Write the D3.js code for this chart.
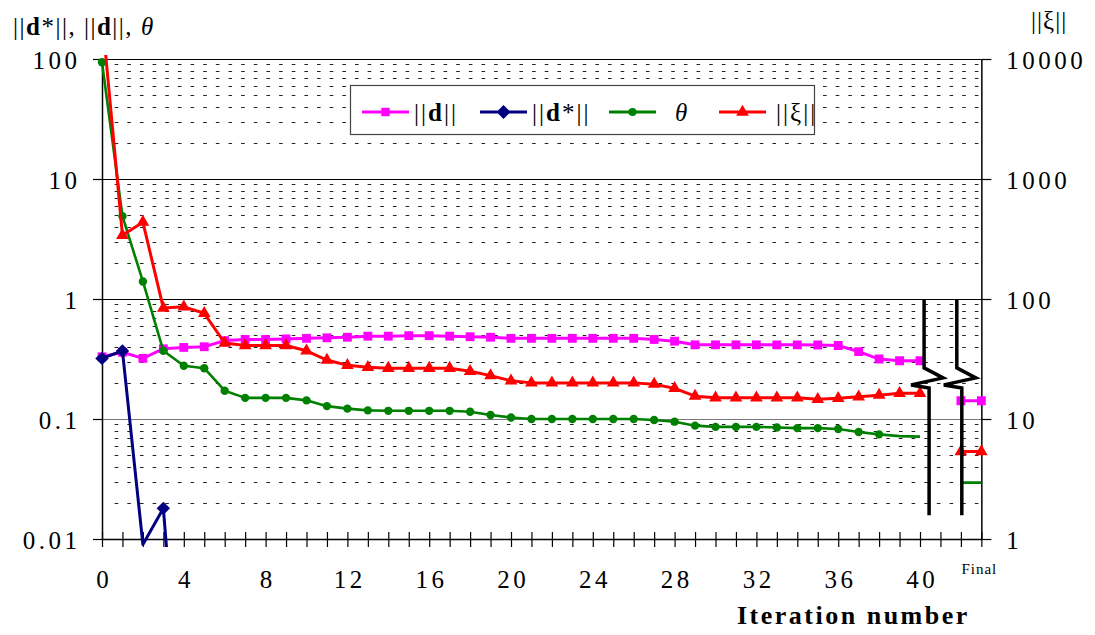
<!DOCTYPE html>
<html>
<head>
<meta charset="utf-8">
<script src="https://cdn.jsdelivr.net/npm/d3@7"></script>
<style>
  body { margin: 0; background: #fff; }
  svg { display: block; font-family: "Liberation Serif", "Times New Roman", serif; }
</style>
</head>
<body>
<div id="container"></div>
<script>

// iteration numbers and the "Final" slot
let iterations = d3.range(0, 41);
let final_x = [42, 43];

// ||d|| (left axis)
let d_norm = [0.33, 0.36, 0.32, 0.385, 0.395, 0.40, 0.45, 0.46, 0.46, 0.465,
  0.47, 0.475, 0.48, 0.49, 0.49, 0.495, 0.495, 0.49, 0.485, 0.48,
  0.47, 0.47, 0.47, 0.47, 0.47, 0.47, 0.47, 0.46, 0.445, 0.415,
  0.415, 0.415, 0.415, 0.415, 0.415, 0.414, 0.41, 0.364, 0.316, 0.306, 0.306];
let d_norm_final = 0.142;

// ||d*|| (left axis), only first iterations
let d_star = [0.32, 0.369, 0.009, 0.018, 0.00014];

// theta (left axis)
let theta = [94, 4.9, 1.4, 0.37, 0.278, 0.265, 0.172, 0.15, 0.15, 0.15,
  0.143, 0.128, 0.122, 0.118, 0.117, 0.117, 0.117, 0.117, 0.115, 0.108,
  0.103, 0.1, 0.1, 0.1, 0.1, 0.1, 0.1, 0.098, 0.095, 0.088,
  0.086, 0.086, 0.086, 0.085, 0.084, 0.084, 0.0826, 0.078, 0.0745, 0.072, 0.0713];
let theta_final = 0.0295;
let theta_no_marker = [39, 40];

// ||xi|| (right axis)
let xi = [23300, 340, 437, 84, 86, 76, 43, 41, 41, 41,
  37, 31, 28, 27, 26.5, 26.5, 26.5, 26.5, 25, 23,
  20.8, 20, 20, 20, 20, 20, 20, 19.5, 18, 15.5,
  15, 15, 15, 15, 15, 14.6, 14.9, 15.3, 15.8, 16.4, 16.4];
let xi_final = 5.35;

let left_ticks = [0.01, 0.1, 1, 10, 100];
let left_tick_labels = ["0.01", "0.1", "1", "10", "100"];
let right_ticks = [1, 10, 100, 1000, 10000];
let x_label_ticks = [0, 4, 8, 12, 16, 20, 24, 28, 32, 36, 40];

// axis break positions (iteration units) and span (left axis units)
let break_x = [40.2, 41.8];
let break_top = 1;
let break_bottom = 0.0158;
let break_zig = 0.22;

let width = 1095, height = 635;
let margin = ({ top: 59, right: 113.65, bottom: 96, left: 102 });
let plot_w = width - margin.left - margin.right;
let plot_h = height - margin.top - margin.bottom;
let serif = "'Liberation Serif', 'Times New Roman', serif";

let x = d3.scaleLinear().domain([0, 43]).range([margin.left, margin.left + plot_w]);
let y = d3.scaleLog().domain([0.01, 100]).range([margin.top + plot_h, margin.top]);
let y2 = d3.scaleLog().domain([1, 10000]).range([margin.top + plot_h, margin.top]);

let svg = d3.select("#container").append("svg")
  .attr("width", width).attr("height", height);

svg.append("defs").append("clipPath").attr("id", "clip")
  .append("rect")
  .attr("x", margin.left - 12).attr("y", margin.top - 4)
  .attr("width", plot_w + 24).attr("height", plot_h + 12);

// minor grid (dashed)
let minor = [];
[0.01, 0.1, 1, 10].forEach(function (p) {
  for (let k = 2; k <= 9; k++) minor.push(+(p * k).toPrecision(3));
});

svg.append("g").selectAll("line")
  .data(minor)
  .enter().append("line")
  .attr("x1", x(0) + 12.65).attr("x2", x(43))
  .attr("y1", d => Math.round(y(d)) + 0.5)
  .attr("y2", d => Math.round(y(d)) + 0.5)
  .attr("stroke", "#222")
  .attr("stroke-width", 1)
  .attr("stroke-dasharray", "3.6 9.05");

// major grid
svg.append("g").selectAll("line")
  .data([0.1, 1, 10, 100])
  .enter().append("line")
  .attr("x1", x(0)).attr("x2", x(43))
  .attr("y1", d => Math.round(y(d)) + 0.5)
  .attr("y2", d => Math.round(y(d)) + 0.5)
  .attr("stroke", d => d === 0.1 ? "#777" : "#000")
  .attr("stroke-width", 1.2);

// axes
let ls = 3.5;
let left_axis = svg.append("g")
  .attr("transform", "translate(" + x(0) + ",0)")
  .call(d3.axisLeft(y).tickValues(left_ticks).tickSize(9).tickSizeOuter(0).tickPadding(16)
    .tickFormat((d, i) => left_tick_labels[i]));

let right_axis = svg.append("g")
  .attr("transform", "translate(" + x(43) + ",0)")
  .call(d3.axisRight(y2).tickValues(right_ticks).tickSize(10).tickSizeOuter(0).tickPadding(15)
    .tickFormat(d => String(d)));

let bottom_axis = svg.append("g")
  .attr("transform", "translate(0," + y(0.01) + ")")
  .call(d3.axisBottom(x).tickValues(d3.range(0, 44)).tickSize(8).tickSizeOuter(0)
    .tickFormat(d => x_label_ticks.indexOf(d) >= 0 ? String(d) : ""));

bottom_axis.selectAll(".tick line").attr("y1", -7);
bottom_axis.selectAll(".tick text").attr("y", 49).attr("dy", 0).attr("dx", ls / 2);

[left_axis, right_axis, bottom_axis].forEach(function (a) {
  a.attr("font-family", null);
  a.select(".domain").attr("stroke", "#000").attr("stroke-width", 1.5);
  a.selectAll(".tick line").attr("stroke", "#000").attr("stroke-width", 1.2);
  a.selectAll(".tick text")
    .style("font-family", serif)
    .attr("font-size", 25)
    .attr("fill", "#000")
    .style("letter-spacing", ls + "px");
});
left_axis.selectAll(".tick text").attr("dx", ls).attr("dy", "0.36em");
right_axis.selectAll(".tick text").attr("dy", "0.36em");

svg.append("text")
  .attr("x", x(43) - 2).attr("y", y(0.01) + 35)
  .attr("text-anchor", "middle")
  .attr("font-size", 15)
  .style("letter-spacing", "1px")
  .text("Final");

// series
let plot = svg.append("g").attr("clip-path", "url(#clip)");

function draw_series(values, scale, color, lw, shape, msize, rot, skip) {
  let pts = values.map((v, i) => ({ x: iterations[i], v: v }));
  let line = d3.line().x(d => x(d.x)).y(d => scale(d.v));
  plot.append("path").datum(pts)
    .attr("d", line)
    .attr("fill", "none").attr("stroke", color)
    .attr("stroke-width", lw).attr("stroke-linejoin", "round");
  let dom = scale.domain();
  plot.selectAll(null)
    .data(pts.filter(d => d.v >= dom[0] && d.v <= dom[1] && skip.indexOf(d.x) < 0))
    .enter().append("path")
    .attr("d", d3.symbol().type(shape).size(msize))
    .attr("transform", d => "translate(" + x(d.x) + "," + scale(d.v) + ") rotate(" + rot + ")")
    .attr("fill", color);
}

function draw_final(v, scale, color, lw, shape, msize) {
  let pts = final_x.map(fx => ({ x: fx, v: v }));
  plot.append("path").datum(pts)
    .attr("d", d3.line().x(d => x(d.x)).y(d => scale(d.v)))
    .attr("fill", "none").attr("stroke", color).attr("stroke-width", lw);
  if (shape) {
    plot.selectAll(null).data(pts).enter().append("path")
      .attr("d", d3.symbol().type(shape).size(msize))
      .attr("transform", d => "translate(" + x(d.x) + "," + scale(d.v) + ")")
      .attr("fill", color);
  }
}

draw_series(d_norm, y, "#ff00ff", 3, d3.symbolSquare, 78, 0, []);
draw_final(d_norm_final, y, "#ff00ff", 3, d3.symbolSquare, 78);
draw_series(d_star, y, "#000080", 3, d3.symbolSquare, 90, 45, []);
draw_series(theta, y, "#008000", 2.6, d3.symbolCircle, 55, 0, theta_no_marker);
draw_final(theta_final, y, "#008000", 2.6, null, 0);
draw_series(xi, y2, "#ff0000", 3, d3.symbolTriangle, 70, 0, []);
draw_final(xi_final, y2, "#ff0000", 3, d3.symbolTriangle, 70);

// axis break marks
svg.append("g").selectAll("path")
  .data(break_x)
  .enter().append("path")
  .attr("d", function (bx) {
    let px = x(bx), yz = y(break_zig);
    return "M" + px + "," + y(break_top) +
      "L" + px + "," + (yz - 10) +
      "L" + (px + 19) + "," + yz +
      "L" + (px - 13) + "," + (yz + 7) +
      "L" + (px + 5) + "," + (yz + 10) +
      "L" + (px + 5) + "," + y(break_bottom);
  })
  .attr("fill", "none").attr("stroke", "#000").attr("stroke-width", 3.5);

// legend
let legend_items = [
  { label: "d", kind: "d", color: "#ff00ff", shape: d3.symbolSquare, size: 70, rot: 0 },
  { label: "d*", kind: "dstar", color: "#000080", shape: d3.symbolSquare, size: 95, rot: 45 },
  { label: "\u03b8", kind: "theta", color: "#008000", shape: d3.symbolCircle, size: 50, rot: 0 },
  { label: "\u03be", kind: "xi", color: "#ff0000", shape: d3.symbolTriangle, size: 70, rot: 0 }
];
let legend_x = [362, 480, 609, 719];

let legend = svg.append("g");
legend.append("rect")
  .attr("x", 350.5).attr("y", 85.5).attr("width", 464).attr("height", 49)
  .attr("fill", "#fff").attr("stroke", "#444").attr("stroke-width", 1.2);

legend_items.forEach(function (it, i) {
  let lx = legend_x[i], ly = 112;
  legend.append("line")
    .attr("x1", lx).attr("x2", lx + 47).attr("y1", ly).attr("y2", ly)
    .attr("stroke", it.color).attr("stroke-width", 3);
  legend.append("path")
    .attr("d", d3.symbol().type(it.shape).size(it.size))
    .attr("transform", "translate(" + (lx + 23.5) + "," + ly + ") rotate(" + it.rot + ")")
    .attr("fill", it.color);
  let t = legend.append("text")
    .attr("y", ly + 9).attr("font-size", 25)
    .style("letter-spacing", "2px");
  if (it.kind === "theta") {
    t.attr("x", lx + 66).attr("font-style", "italic").text(it.label);
  } else if (it.kind === "xi") {
    t.attr("x", lx + 57).text("||" + it.label + "||");
  } else {
    t.attr("x", lx + 52);
    t.append("tspan").text("||");
    t.append("tspan").attr("font-weight", "bold").text("d");
    t.append("tspan").text(it.kind === "dstar" ? "*||" : "||");
  }
});

// axis titles
let lt = svg.append("text")
  .attr("x", 13).attr("y", 35).attr("font-size", 25)
  .style("letter-spacing", "1.5px");
lt.append("tspan").text("||");
lt.append("tspan").attr("font-weight", "bold").text("d");
lt.append("tspan").text("*||, ||");
lt.append("tspan").attr("font-weight", "bold").text("d");
lt.append("tspan").text("||, ");
lt.append("tspan").attr("font-style", "italic").text("\u03b8");

svg.append("text")
  .attr("x", 1031).attr("y", 29).attr("font-size", 25)
  .style("letter-spacing", "1px")
  .text("||\u03be||");

svg.append("text")
  .attr("x", 737).attr("y", 624)
  .attr("font-size", 26).attr("font-weight", "bold")
  .style("letter-spacing", "2.5px")
  .text("Iteration number");

</script>
</body>
</html>
